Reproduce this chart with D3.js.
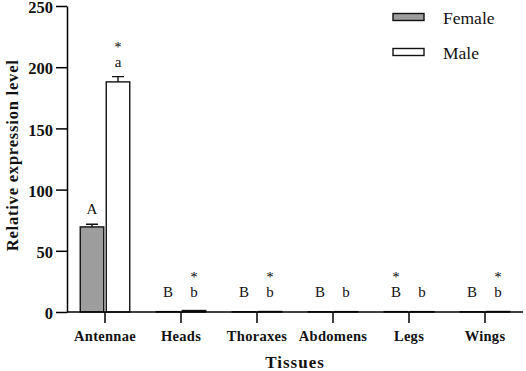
<!DOCTYPE html>
<html>
<head>
<meta charset="utf-8">
<script src="https://cdn.jsdelivr.net/npm/d3@7"></script>
<style>
  body { margin: 0; background: #fff; }
  svg text { font-family: "Liberation Serif", "Times New Roman", serif !important; fill: #111; }
</style>
</head>
<body>
<div id="chart"></div>
<script>
// data
const tissues = ["Antennae", "Heads", "Thoraxes", "Abdomens", "Legs", "Wings"];
const femaleVals = [69.5, 0.3, 0.2, 0.2, 0.3, 0.2];
const femaleErr = [2.2, 0.1, 0.1, 0.1, 0.1, 0.1];
const maleVals = [188, 1.2, 0.4, 0.3, 0.3, 0.4];
const maleErr = [4.3, 0.3, 0.1, 0.1, 0.1, 0.1];
const femaleLetters = ["A", "B", "B", "B", "B", "B"];
const maleLetters = ["a", "b", "b", "b", "b", "b"];
const femaleStars = [false, false, false, false, true, false];
const maleStars = [true, true, true, false, false, true];
const yTicks = [0, 50, 100, 150, 200, 250];

const svgWidth = 526, svgHeight = 371;
const margin = { top: 6, left: 67, right: 3, bottom: 59 };
const height = svgHeight - margin.top - margin.bottom;

const svg = d3.select("#chart").append("svg")
  .attr("width", svgWidth)
  .attr("height", svgHeight);

const x = d3.scaleBand().domain(tissues).range([margin.left, svgWidth - margin.right]).padding(0);
const y = d3.scaleLinear().domain([0, 250]).range([margin.top + height, margin.top]);

const barW = 23.5, gap = 2.5;
const rows = tissues.map((t, i) => ({
  t, i,
  f: femaleVals[i], fe: femaleErr[i], m: maleVals[i], me: maleErr[i]
}));

function cx(d, sex) {
  const c = x(d.t) + x.bandwidth() / 2;
  return sex === "f" ? c - gap / 2 - barW : c + gap / 2;
}

// bars
const g = svg.append("g");
g.selectAll("rect.f").data(rows).enter().append("rect")
  .attr("x", d => cx(d, "f"))
  .attr("y", d => y(d.f))
  .attr("width", barW)
  .attr("height", d => y(0) - y(d.f))
  .attr("fill", "#9d9d9d")
  .attr("stroke", "#111")
  .attr("stroke-width", 1.4);

g.selectAll("rect.m").data(rows).enter().append("rect")
  .attr("x", d => cx(d, "m"))
  .attr("y", d => y(d.m))
  .attr("width", barW)
  .attr("height", d => y(0) - y(d.m))
  .attr("fill", "#fff")
  .attr("stroke", "#111")
  .attr("stroke-width", 1.4);

// error bars (upper only)
function errBar(sel, valKey, errKey, sex) {
  sel.selectAll(null).data(rows.filter(d => d[valKey] > 5)).enter().append("path")
    .attr("d", d => {
      const mx = cx(d, sex) + barW / 2;
      const top = y(d[valKey] + d[errKey]);
      return `M${mx},${y(d[valKey])}V${top}M${mx - 6},${top}H${mx + 6}`;
    })
    .attr("stroke", "#111")
    .attr("stroke-width", 1.4)
    .attr("fill", "none");
}
errBar(g, "f", "fe", "f");
errBar(g, "m", "me", "m");

// significance letters and stars
function labelTop(v, e) { return Math.min(y(v + e) - 10, y(0) - 15); }
rows.forEach(d => {
  const fx = cx(d, "f") + barW / 2, mx = cx(d, "m") + barW / 2;
  const fy = labelTop(d.f, d.fe), my = labelTop(d.m, d.me);
  svg.append("text").attr("x", fx).attr("y", fy).attr("text-anchor", "middle")
    .attr("font-size", 15).text(femaleLetters[d.i]);
  svg.append("text").attr("x", mx).attr("y", my).attr("text-anchor", "middle")
    .attr("font-size", 15).text(maleLetters[d.i]);
  if (femaleStars[d.i]) svg.append("text").attr("x", fx).attr("y", fy - 15)
    .attr("text-anchor", "middle").attr("font-size", 14).style("fill", "#000").text("*");
  if (maleStars[d.i]) svg.append("text").attr("x", mx).attr("y", my - 15)
    .attr("text-anchor", "middle").attr("font-size", 14).style("fill", "#000").text("*");
});

// axes
const xAxis = svg.append("g")
  .attr("transform", `translate(0, ${y(0)})`)
  .call(d3.axisBottom(x).tickSize(11).tickSizeOuter(0));
xAxis.select(".domain").attr("stroke-width", 1.5).attr("d", `M${margin.left},0H${svgWidth - margin.right}`);
xAxis.selectAll(".tick line").attr("stroke-width", 1.5);
xAxis.selectAll(".tick text")
  .attr("font-size", 14.5).attr("font-weight", "bold").attr("y", 14).attr("dy", "1em")
  .attr("letter-spacing", 0.3);

const yAxis = svg.append("g")
  .attr("transform", `translate(${margin.left}, 0)`)
  .call(d3.axisLeft(y).tickValues(yTicks).tickSize(11).tickSizeOuter(0));
yAxis.select(".domain").attr("stroke-width", 1.5);
yAxis.selectAll(".tick line").attr("stroke-width", 1.5);
yAxis.selectAll(".tick text")
  .attr("font-size", 16.5).attr("font-weight", "bold").attr("x", -14).attr("dy", "0.4em");

// axis titles
svg.append("text")
  .attr("transform", `translate(18, ${y(128)}) rotate(-90)`)
  .attr("text-anchor", "middle")
  .attr("font-size", 16.5).attr("font-weight", "bold").attr("letter-spacing", 0.8)
  .text("Relative expression level");

svg.append("text")
  .attr("x", 295).attr("y", 368)
  .attr("text-anchor", "middle")
  .attr("font-size", 17).attr("font-weight", "bold").attr("letter-spacing", 1)
  .text("Tissues");

// legend
const legend = svg.append("g");
[["Female", "#9d9d9d", 13.5], ["Male", "#fff", 48.5]].forEach(([name, fill, ly]) => {
  legend.append("rect").attr("x", 393).attr("y", ly).attr("width", 31).attr("height", 7)
    .attr("fill", fill).attr("stroke", "#111").attr("stroke-width", 1.4);
  legend.append("text").attr("x", 443).attr("y", ly + 10).attr("font-size", 17.5).text(name);
});
</script>
</body>
</html>
